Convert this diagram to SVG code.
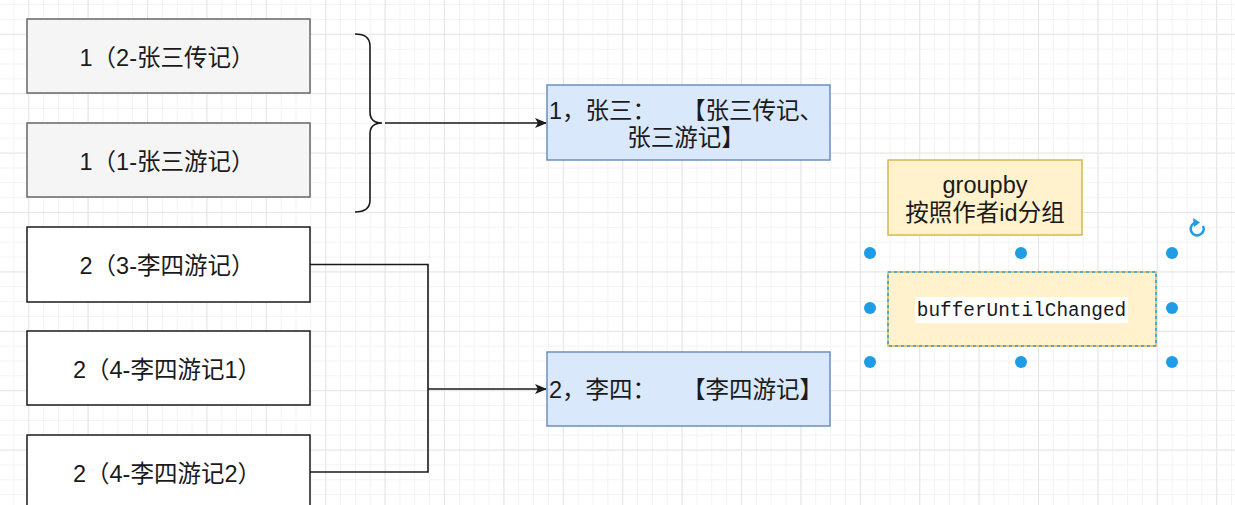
<svg xmlns="http://www.w3.org/2000/svg" width="1235" height="505" viewBox="0 0 1235 505">
<style>
.t{font-family:"Liberation Sans","Noto Sans CJK SC",sans-serif;font-size:23.5px;fill:#1a1a1a;text-anchor:middle;white-space:pre}
.grey{fill:#f5f5f5;stroke:#666;stroke-width:1.5}
.white{fill:#fff;stroke:#1a1a1a;stroke-width:1.5}
.blue{fill:#dae8fc;stroke:#6c8ebf;stroke-width:1.5}
.yel{fill:#fff2cc;stroke:#d6b656;stroke-width:1.5}
.conn{fill:none;stroke:#1a1a1a;stroke-width:1.6}
.h{fill:#1e9ce6}
</style>
<defs>
<pattern id="minor" x="28.2" y="33.8" width="14.85" height="14.85" patternUnits="userSpaceOnUse">
<path d="M0,0.5 H14.85 M0.5,0 V14.85" stroke="#f3f3f3" stroke-width="1" fill="none"/>
</pattern>
<pattern id="major" x="28.2" y="33.8" width="59.4" height="59.4" patternUnits="userSpaceOnUse">
<path d="M0,0.5 H59.4 M0.5,0 V59.4" stroke="#e6e6e6" stroke-width="1.2" fill="none"/>
</pattern>
<marker id="arr" viewBox="0 0 12 10" refX="11" refY="5" markerWidth="12" markerHeight="10" markerUnits="userSpaceOnUse" orient="auto">
<path d="M0,0 L12,5 L0,10 L3,5 z" fill="#1a1a1a"/>
</marker>
</defs>
<rect width="1235" height="505" fill="#fff"/>
<rect width="1235" height="505" fill="url(#minor)"/>
<rect width="1235" height="505" fill="url(#major)"/>

<g id="connectors">
<path class="conn" d="M355,34 Q370,34 370,46 L370,112 Q370,123 382,123 Q370,123 370,134 L370,200 Q370,212 355,212"/>
<path class="conn" d="M385,123 H546" marker-end="url(#arr)"/>
<path class="conn" d="M310,264.5 H428 V472 H310"/>
<path class="conn" d="M428,389 H546" marker-end="url(#arr)"/>
</g>

<g id="n1"><rect class="grey" x="27" y="19" width="283" height="74"/><text class="t" x="167" y="66">1（2-张三传记）</text></g>
<g id="n2"><rect class="grey" x="27" y="123" width="283" height="74"/><text class="t" x="167" y="170">1（1-张三游记）</text></g>
<g id="n3"><rect class="white" x="27" y="227" width="283" height="75"/><text class="t" x="167" y="274">2（3-李四游记）</text></g>
<g id="n4"><rect class="white" x="27" y="331" width="283" height="74"/><text class="t" x="167" y="378">2（4-李四游记1）</text></g>
<g id="n5"><rect class="white" x="27" y="435" width="283" height="80"/><text class="t" x="167" y="482">2（4-李四游记2）</text></g>

<g id="r1"><rect class="blue" x="547" y="85" width="283" height="75"/>
<text class="t" x="686" y="119">1，张三：    【张三传记、</text>
<text class="t" x="686" y="146">张三游记】</text></g>
<g id="r2"><rect class="blue" x="547" y="352" width="283" height="74"/>
<text class="t" x="686" y="398">2，李四：    【李四游记】</text></g>

<g id="groupby"><rect class="yel" x="888" y="160" width="194" height="75"/>
<text class="t" x="985" y="193">groupby</text>
<text class="t" x="985" y="221">按照作者id分组</text></g>

<g id="buffer"><rect class="yel" x="888" y="272" width="268" height="74"/>
<rect x="888" y="272" width="268" height="74" fill="none" stroke="#29a3e0" stroke-width="1.5" stroke-dasharray="3 3"/>
<rect x="915" y="297" width="213" height="26" fill="#fff"/>
<text x="1021.5" y="316" style="font-family:'Liberation Mono',monospace;font-size:19.4px;fill:#1a1a1a;text-anchor:middle">bufferUntilChanged</text>
<circle class="h" cx="870" cy="253" r="6"/><circle class="h" cx="1021" cy="253" r="6"/><circle class="h" cx="1172" cy="253" r="6"/>
<circle class="h" cx="870" cy="308" r="6"/><circle class="h" cx="1172" cy="308" r="6"/>
<circle class="h" cx="870" cy="362" r="6"/><circle class="h" cx="1021" cy="362" r="6"/><circle class="h" cx="1172" cy="362" r="6"/>
<path d="M1203,226 A6.5,6.5 0 1 1 1196,222.5" fill="none" stroke="#1e9ce6" stroke-width="2.5"/>
<path d="M1193,218 L1200,222.5 L1194,227 z" fill="#1e9ce6"/>
</g>
</svg>
